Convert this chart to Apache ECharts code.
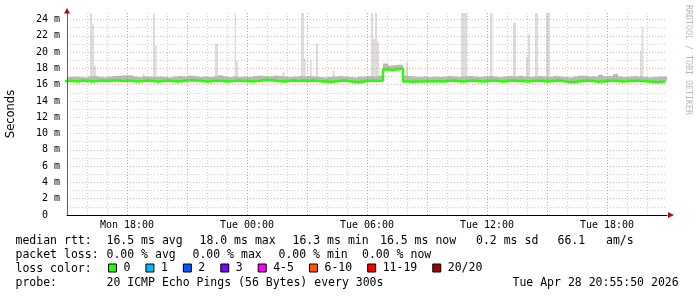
<!DOCTYPE html>
<html><head><meta charset="utf-8">
<script src="https://cdn.jsdelivr.net/npm/echarts@6/dist/echarts.min.js"></script>
<style>html,body{margin:0;padding:0;background:#fff}#c{width:697px;height:297px}</style>
</head><body><div id="c"></div>
<script>
// ---- data (hours counted from Mon 00:00) ----
const xTickHours = [18, 24, 30, 36, 42];
const xTickLabels = ['Mon 18:00', 'Tue 00:00', 'Tue 06:00', 'Tue 12:00', 'Tue 18:00'];

const medianStartHour = 14.8;
const medianStepHours = 0.25;
const medianEndHour = 44.9;
const medianValues = [
  16.45,16.45,16.4,16.5,16.45,16.4,16.45,16.5,16.45,16.55,16.5,16.45,
  16.5,16.45,16.4,16.45,16.5,16.45,16.4,16.45,16.5,16.45,16.4,16.45,
  16.5,16.55,16.5,16.45,16.4,16.45,16.5,16.45,16.4,16.45,16.5,16.45,
  16.45,16.4,16.45,16.55,16.6,16.55,16.45,16.4,16.45,16.5,16.45,16.5,
  16.45,16.5,16.45,16.4,16.35,16.35,16.45,16.5,16.45,16.35,16.3,16.4,
  16.45,16.5,16.45,16.5,17.85,17.8,17.9,18.0,16.4,16.35,16.4,16.4,
  16.45,16.4,16.45,16.4,16.45,16.5,16.45,16.4,16.45,16.5,16.45,16.4,
  16.45,16.5,16.45,16.4,16.45,16.5,16.45,16.45,16.4,16.45,16.5,16.45,
  16.4,16.45,16.5,16.45,16.35,16.3,16.4,16.45,16.5,16.45,16.35,16.4,
  16.45,16.5,16.45,16.4,16.45,16.45,16.5,16.45,16.4,16.35,16.3,16.35,
  16.4
];
const smokeTopValues = [
  16.9,16.95,17.0,16.95,16.9,17.0,17.05,16.95,16.9,17.0,17.05,17.1,
  17.15,17.15,17.0,16.95,17.0,17.0,16.95,17.0,16.95,16.9,17.0,17.05,
  17.0,17.1,17.05,16.95,17.0,16.95,17.0,17.15,17.0,16.95,17.0,16.95,
  17.0,16.95,17.05,17.1,17.05,17.0,17.1,17.05,17.0,16.95,17.0,17.05,
  17.0,17.05,17.0,16.95,16.9,16.95,17.0,17.05,17.0,16.95,16.9,17.0,
  17.0,17.05,17.0,17.1,18.6,18.35,18.4,18.45,17.1,17.05,17.0,16.95,
  17.0,16.95,17.0,16.95,17.0,17.05,17.0,16.95,17.0,17.05,17.0,16.95,
  17.0,17.05,17.0,16.95,17.0,17.05,17.0,17.1,17.0,16.95,17.0,17.05,
  17.0,16.95,17.05,17.0,16.95,16.9,17.0,17.1,17.1,17.0,17.0,17.2,
  17.0,17.05,17.3,17.0,16.95,17.0,17.05,17.0,16.95,16.9,16.95,17.0,
  17.0
];
const spikeBase = 16.5;
const spikeStart = [16.15,16.25,16.35,19.3,19.4,22.4,23.38,23.45,26.7,26.85,27.15,27.45,30.2,30.3,30.4,30.5,31.95,34.7,36.15,37.3,37.95,38.05,38.4,38.95,43.65,43.73,18.78,25.78,28.28];
const spikeEnd   = [16.25,16.35,16.45,19.4,19.48,22.55,23.45,23.55,26.85,26.93,27.23,27.55,30.3,30.4,30.5,30.6,32.05,35.0,36.28,37.45,38.05,38.15,38.55,39.15,43.73,43.82,18.88,25.88,28.38];
const spikeTop   = [24.8,23.4,18.3,24.8,20.8,21.0,24.8,18.9,24.8,19.2,19.0,21.05,24.8,21.6,24.8,21.3,18.75,24.8,24.8,23.6,19.4,22.2,24.8,24.8,20.2,23.1,17.35,17.5,17.7];

const rttValues = ['16.5', '18.0', '16.3', '16.5', '0.2'];
const rttNames = ['avg', 'max', 'min', 'now', 'sd'];
const amPerSec = '66.1';
const lossValues = ['0.00', '0.00', '0.00', '0.00'];
const lossNames = ['avg', 'max', 'min', 'now'];
const lossClasses = ['0', '1', '2', '3', '4-5', '6-10', '11-19', '20/20'];
const lossClassColors = ['#26ff00', '#00b8ff', '#0059ff', '#7e00ff', '#ff00ff', '#ff5500', '#ff0000', '#a10000'];
const probeText = '20 ICMP Echo Pings (56 Bytes) every 300s';
const dateText = 'Tue Apr 28 20:55:50 2026';
const watermark = 'RRDTOOL / TOBI OETIKER';

// ---- build ----
const MONO = '"DejaVu Sans Mono", "Liberation Mono", monospace';
const medianLine = medianValues.map((v, k) => [medianStartHour + k * medianStepHours, v]);
medianLine.push([medianEndHour, medianValues[medianValues.length - 1]]);
const smokeData = medianValues.map((v, k) => [medianStartHour + k * medianStepHours, medianStartHour + (k + 1) * medianStepHours, v, smokeTopValues[k]]);
const spikeData = spikeStart.map((s, i) => [s, spikeEnd[i], spikeBase, spikeTop[i]]);

function rectRenderer(color) {
  return function (params, api) {
    const p0 = api.coord([api.value(0), api.value(2)]);
    const p1 = api.coord([api.value(1), api.value(3)]);
    return { type: 'rect', shape: { x: p0[0], y: p1[1], width: p1[0] - p0[0], height: p0[1] - p1[1] }, style: { fill: color } };
  };
}

const chart = echarts.init(document.getElementById('c'), null, { renderer: 'canvas' });

const legendFont = 11.5;
function txt(id, x, y, s) {
  return { type: 'text', id: id, x: x, y: y, silent: true, style: { text: s, fill: '#000', font: legendFont + 'px ' + MONO, verticalAlign: 'middle', align: 'left' } };
}
const rttX = [106.5, 199.5, 292.5, 380, 476];
const lossX = [106.5, 192.5, 278.5, 362];
const graphics = [];
graphics.push(txt('r1', 15.5, 241.5, 'median rtt:'));
rttValues.forEach((v, i) => graphics.push(txt('rv' + i, rttX[i], 241.5, v + ' ms ' + rttNames[i])));
graphics.push(txt('am', 557.5, 241.5, amPerSec));
graphics.push(txt('ams', 606, 241.5, 'am/s'));
graphics.push(txt('r2', 15.5, 255.5, 'packet loss:'));
lossValues.forEach((v, i) => graphics.push(txt('lv' + i, lossX[i], 255.5, v + ' % ' + lossNames[i])));
graphics.push(txt('r3', 15.5, 269.5, 'loss color:'));
graphics.push(txt('r4', 15.5, 283.5, 'probe:'));
graphics.push(txt('pt', 106.5, 283.5, probeText));
graphics.push(txt('dt', 512.5, 283.5, dateText));
graphics.push({ type: 'text', id: 'wm', x: 688, y: 60, rotation: -Math.PI / 2, silent: true,
  style: { text: watermark, fill: '#b8b8b8', font: '8.3px ' + MONO, align: 'center', verticalAlign: 'middle' } });

const series = [
  { type: 'custom', name: 'spikes', renderItem: rectRenderer('#dcdcdc'), data: spikeData, encode: { x: [0, 1], y: [2, 3] }, clip: true, z: 2, silent: true },
  { type: 'custom', name: 'smoke', renderItem: rectRenderer('#b9b9b9'), data: smokeData, encode: { x: [0, 1], y: [2, 3] }, clip: true, z: 3, silent: true },
  { type: 'line', name: 'median', data: medianLine, step: 'end', showSymbol: false, clip: true, z: 5, silent: true,
    lineStyle: { color: '#26ff00', width: 2.5 } }
];
lossClasses.forEach((n, i) => series.push({ type: 'line', name: n, data: [], itemStyle: { color: lossClassColors[i] }, lineStyle: { color: lossClassColors[i] } }));

const minorGrid = 'rgba(150,150,150,0.45)';
const majorGrid = 'rgba(225,90,90,0.45)';

chart.setOption({
  animation: false,
  backgroundColor: '#fff',
  grid: { left: 67, right: 30, top: 13, bottom: 82, containLabel: false, outerBoundsMode: 'none' },
  xAxis: [
    { type: 'value', min: 15, max: 45, interval: 1, z: 11,
      axisLine: { show: true, onZero: false, lineStyle: { color: '#000', width: 1 } },
      axisTick: { show: false }, axisLabel: { show: false },
      splitLine: { show: true, showMinLine: false, showMaxLine: false, lineStyle: { color: minorGrid, type: [1, 2], width: 1 } } },
    { type: 'value', min: 15, max: 45, interval: 3, z: 12, position: 'bottom', offset: 0,
      axisLine: { show: false }, axisTick: { show: false },
      axisLabel: { show: true, margin: 5, fontFamily: MONO, fontSize: 10, color: '#000', showMinLabel: false, showMaxLabel: false,
        formatter: function (v) { const i = xTickHours.indexOf(v); return i >= 0 ? xTickLabels[i] : ''; } },
      splitLine: { show: true, showMinLine: false, showMaxLine: false, lineStyle: { color: majorGrid, type: [1, 2], width: 1 } } }
  ],
  yAxis: {
    type: 'value', min: 0, max: 24.8, interval: 2, z: 10,
    name: 'Seconds', nameLocation: 'middle', nameGap: 50, nameRotate: 90,
    nameTextStyle: { fontFamily: '"DejaVu Sans", sans-serif', fontSize: 11.5, color: '#000' },
    axisLine: { show: true, lineStyle: { color: '#6a5a5a', width: 1 } },
    axisTick: { show: false },
    axisLabel: { margin: 7, fontFamily: MONO, fontSize: 10, color: '#000', showMaxLabel: false,
      formatter: function (v) { return v === 0 ? '0\u00a0\u00a0' : v + ' m'; } },
    splitLine: { show: true, showMaxLine: false, lineStyle: { color: majorGrid, type: [1, 2], width: 1 } },
    minorTick: { show: false, splitNumber: 2 },
    minorSplitLine: { show: true, lineStyle: { color: minorGrid, type: [1, 2], width: 1 } }
  },
  legend: {
    data: lossClasses, left: 108, top: 262, padding: 0, orient: 'horizontal',
    itemWidth: 8, itemHeight: 8, itemGap: 15, icon: 'rect', selectedMode: false,
    itemStyle: { borderColor: '#000', borderWidth: 1 },
    textStyle: { fontFamily: MONO, fontSize: legendFont, color: '#000', padding: [0, 0, 0, 2] }
  },
  graphic: graphics,
  series: series
});

// axis arrows, placed through the axes' own scales
const topPt = chart.convertToPixel({ xAxisIndex: 0, yAxisIndex: 0 }, [15, 24.8]);
const endPt = chart.convertToPixel({ xAxisIndex: 0, yAxisIndex: 0 }, [45, 0]);
chart.setOption({
  graphic: [
    { type: 'polygon', id: 'arrowY', silent: true, shape: { points: [[topPt[0] - 3, topPt[1] + 0.5], [topPt[0] + 3, topPt[1] + 0.5], [topPt[0], topPt[1] - 5]] }, style: { fill: '#a01414' }, z: 20 },
    { type: 'polygon', id: 'arrowX', silent: true, shape: { points: [[endPt[0] + 1, endPt[1] - 3], [endPt[0] + 1, endPt[1] + 3], [endPt[0] + 7, endPt[1]]] }, style: { fill: '#a01414' }, z: 20 }
  ]
});
</script>
</body></html>
